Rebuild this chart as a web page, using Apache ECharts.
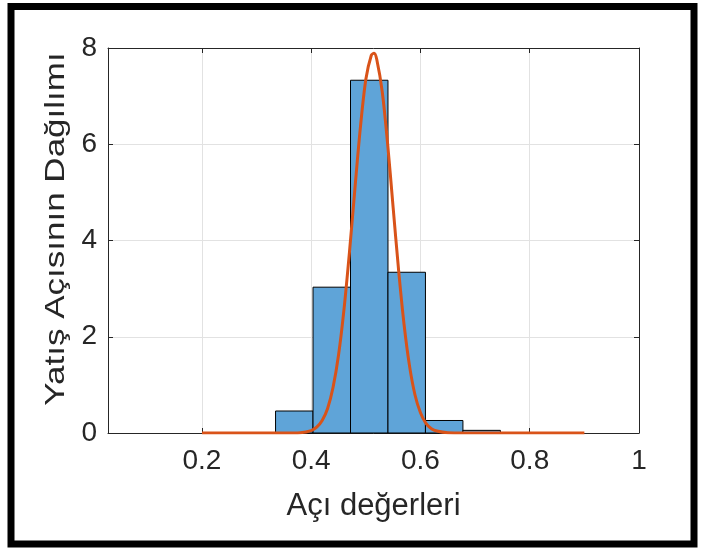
<!DOCTYPE html>
<html>
<head>
<meta charset="utf-8">
<script src="https://cdn.jsdelivr.net/npm/echarts@6/dist/echarts.min.js"></script>
<style>
html,body{margin:0;padding:0;background:#fff;}
#chart{width:702px;height:550px;}
</style>
</head>
<body>
<div id="chart"></div>
<script>
// Histogram bins (edges) and density heights
const binEdges = [0.3347, 0.4033, 0.4719, 0.5405, 0.6091, 0.6777, 0.7463];
const binDensity = [0.457, 3.03, 7.33, 3.34, 0.26, 0.055];
// Fitted curve
const fitX = [0.2, 0.3, 0.35, 0.38, 0.40, 0.41, 0.42, 0.43, 0.44, 0.45, 0.46, 0.47, 0.48, 0.49, 0.50, 0.51, 0.515, 0.52, 0.53, 0.54, 0.55, 0.56, 0.57, 0.58, 0.59, 0.60, 0.61, 0.62, 0.63, 0.65, 0.68, 0.75, 0.9];
const fitY = [0, 0, 0, 0.007, 0.05, 0.12, 0.26, 0.51, 0.95, 1.62, 2.57, 3.76, 5.08, 6.35, 7.35, 7.85, 7.89, 7.76, 7.09, 5.99, 4.68, 3.38, 2.25, 1.39, 0.79, 0.42, 0.20, 0.09, 0.04, 0.005, 0, 0, 0];
// Axis ticks
const xTicks = [0.2, 0.4, 0.6, 0.8, 1];
const xLabels = ['0.2', '0.4', '0.6', '0.8', '1'];
const yTicks = [0, 2, 4, 6, 8];
const xTitle = 'Açı değerleri';
const yTitle = 'Yatış Açısının Dağılımı';

const FONT = "'Liberation Sans', Arial, Helvetica, sans-serif";
const TXT = '#262626';

const chart = echarts.init(document.getElementById('chart'), null, {renderer: 'canvas'});

const histData = binDensity.map((v, i) => [binEdges[i], binEdges[i + 1], v]);
const fitData = fitX.map((x, i) => [x, fitY[i]]);

const option = {
  backgroundColor: '#ffffff',
  animation: false,
  grid: {left: 108, right: 63, top: 48, bottom: 117, containLabel: false},
  xAxis: [{
    type: 'value',
    min: 0.028, max: 1,
    name: xTitle,
    nameLocation: 'middle',
    nameGap: 58,
    nameTextStyle: {fontFamily: FONT, fontSize: 31, color: TXT},
    axisLine: {show: true, onZero: false, lineStyle: {color: TXT, width: 1}},
    axisTick: {show: true, inside: true, length: 5, customValues: xTicks, lineStyle: {color: TXT}},
    axisLabel: {
      customValues: xTicks,
      formatter: v => xLabels[xTicks.findIndex(t => Math.abs(t - v) < 1e-9)] ?? '',
      fontFamily: FONT, fontSize: 28, color: TXT, margin: 14
    },
    splitLine: {show: true, lineStyle: {color: '#e2e2e2', width: 1}}
  }, {
    type: 'value',
    position: 'top',
    min: 0.028, max: 1,
    axisLine: {show: true, onZero: false, lineStyle: {color: TXT, width: 1}},
    axisTick: {show: true, inside: true, length: 5, customValues: xTicks, lineStyle: {color: TXT}},
    axisLabel: {show: false, customValues: xTicks},
    splitLine: {show: false}
  }],
  yAxis: [{
    type: 'value',
    min: 0, max: 8, interval: 2,
    axisLine: {show: true, lineStyle: {color: TXT, width: 1}},
    axisTick: {show: true, inside: true, length: 5, lineStyle: {color: TXT}},
    axisLabel: {fontFamily: FONT, fontSize: 28, color: TXT, margin: 11},
    splitLine: {show: true, lineStyle: {color: '#e2e2e2', width: 1}}
  }, {
    type: 'value',
    position: 'right',
    min: 0, max: 8, interval: 2,
    axisLine: {show: true, lineStyle: {color: TXT, width: 1}},
    axisTick: {show: true, inside: true, length: 5, lineStyle: {color: TXT}},
    axisLabel: {show: false},
    splitLine: {show: false}
  }],
  series: [{
    type: 'custom',
    name: 'hist',
    xAxisIndex: 0, yAxisIndex: 0,
    data: histData,
    encode: {x: [0, 1], y: 2},
    renderItem: function (params, api) {
      const p0 = api.coord([api.value(0), api.value(2)]);
      const p1 = api.coord([api.value(1), 0]);
      return {
        type: 'rect',
        shape: {x: p0[0], y: p0[1], width: p1[0] - p0[0], height: p1[1] - p0[1]},
        style: {fill: '#5fa4d8', stroke: '#000000', lineWidth: 1}
      };
    },
    z: 2
  }, {
    type: 'line',
    name: 'fit',
    xAxisIndex: 0, yAxisIndex: 0,
    data: fitData,
    showSymbol: false,
    smooth: 0.3,
    lineStyle: {color: '#d95319', width: 3},
    z: 5
  }],
  graphic: [{
    type: 'text',
    x: 56, y: 229,
    rotation: Math.PI / 2,
    scaleX: 1.25,
    style: {text: yTitle, fontFamily: FONT, fontSize: 28, fill: TXT, align: 'center', verticalAlign: 'middle'},
    z: 50
  }, {
    type: 'rect',
    shape: {x: 11, y: 6.5, width: 683, height: 537.5},
    style: {fill: null, stroke: '#000000', lineWidth: 7},
    z: 100
  }]
};
chart.setOption(option);
</script>
</body>
</html>
